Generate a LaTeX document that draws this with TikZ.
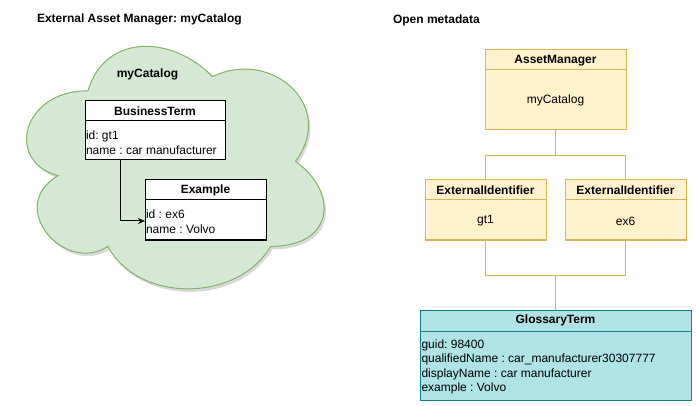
\documentclass[tikz,border=0pt]{standalone}
\usepackage{fontspec}
\setmainfont{Liberation Sans}
\usetikzlibrary{arrows.meta}
\frenchspacing
\definecolor{cloudfill}{HTML}{D5E8D4}
\definecolor{cloudline}{HTML}{82B366}
\definecolor{yelfill}{HTML}{FFF2CC}
\definecolor{yelline}{HTML}{D6B656}
\definecolor{tealfill}{HTML}{B0E3E6}
\definecolor{tealline}{HTML}{0E8088}
\tikzset{
  every node/.style={font=\fontsize{12}{14}\selectfont\frenchspacing, inner sep=0pt, outer sep=0pt},
  title/.style={font=\fontsize{12}{14}\selectfont\bfseries\frenchspacing, anchor=west},
  hdr/.style={font=\fontsize{12}{14}\selectfont\bfseries},
  attr/.style={anchor=base west},
  plainbox/.style={draw=black, fill=white, line width=1pt, anchor=north west},
  yelbox/.style={draw=yelline, fill=yelfill, line width=1pt, anchor=north west},
  tealbox/.style={draw=tealline, fill=tealfill, line width=1pt, anchor=north west},
  conn/.style={draw=yelline, line width=1pt},
  arr/.style={draw=black, line width=1pt, -{Stealth[length=7pt,width=6pt]}},
}
\begin{document}
\begin{tikzpicture}[x=1pt,y=-1pt]
\useasboundingbox (0,0) rectangle (696,406);
% titles
\node[title] (t1) at (37,19) {External Asset Manager: myCatalog};
\node[title] (t2) at (393,20) {Open metadata};
% cloud shadow
\fill[black, opacity=0.15, shift={(2pt,-3pt)}] (88,90.75) .. controls (21.6,90.75) and (5,161.5) .. (58.12,175.65)
 .. controls (5,206.78) and (64.76,274.7) .. (107.92,246.4)
 .. controls (137.8,303) and (237.4,303) .. (270.6,246.4)
 .. controls (337,246.4) and (337,189.8) .. (295.5,161.5)
 .. controls (337,104.9) and (270.6,48.3) .. (212.5,76.6)
 .. controls (171,34.15) and (104.6,34.15) .. (88,90.75) -- cycle;
% cloud
\filldraw[fill=cloudfill, draw=cloudline, line width=1pt] (88,90.75) .. controls (21.6,90.75) and (5,161.5) .. (58.12,175.65)
 .. controls (5,206.78) and (64.76,274.7) .. (107.92,246.4)
 .. controls (137.8,303) and (237.4,303) .. (270.6,246.4)
 .. controls (337,246.4) and (337,189.8) .. (295.5,161.5)
 .. controls (337,104.9) and (270.6,48.3) .. (212.5,76.6)
 .. controls (171,34.15) and (104.6,34.15) .. (88,90.75) -- cycle;
\node[hdr] (cl) at (147.5,74) {myCatalog};
% BusinessTerm
\node[plainbox, minimum width=140pt, minimum height=59pt] (bt) at (85,101) {};
\draw[line width=1pt] ([yshift=-20pt]bt.north west) -- ([yshift=-20pt]bt.north east);
\node[hdr] (bth) at ([yshift=-10.5pt]bt.north) {BusinessTerm};
\node[attr] (bt1) at (86,139.8) {id: gt1};
\node[attr] (bt2) at (86,154.2) {name : car manufacturer};
% Example
\node[plainbox, minimum width=121pt, minimum height=60pt] (ex) at (145,180) {};
\draw[line width=1pt] ([yshift=-20pt]ex.north west) -- ([yshift=-20pt]ex.north east);
\node[hdr] (exh) at ([yshift=-10.5pt]ex.north) {Example};
\node[attr] (ex1) at (146,218.8) {id : ex6};
\node[attr] (ex2) at (146,233.2) {name : Volvo};
% arrow
\draw[arr] ([xshift=35pt]bt.south west) |- ([yshift=-11pt]ex.west);
% AssetManager
\node[yelbox, minimum width=141pt, minimum height=80pt] (am) at (485,50) {};
\draw[yelline, line width=1pt] ([yshift=-20pt]am.north west) -- ([yshift=-20pt]am.north east);
\node[hdr] (amh) at ([yshift=-10.5pt]am.north) {AssetManager};
\node (amb) at (555.5,100.7) {myCatalog};
% ExternalIdentifiers
\node[yelbox, minimum width=121pt, minimum height=60pt] (ei1) at (425,180) {};
\draw[yelline, line width=1pt] ([yshift=-20pt]ei1.north west) -- ([yshift=-20pt]ei1.north east);
\node[hdr] (ei1h) at ([yshift=-10.5pt]ei1.north) {ExternalIdentifier};
\node (ei1b) at (485.5,221) {gt1};
\node[yelbox, minimum width=121pt, minimum height=60pt] (ei2) at (565,180) {};
\draw[yelline, line width=1pt] ([yshift=-20pt]ei2.north west) -- ([yshift=-20pt]ei2.north east);
\node[hdr] (ei2h) at ([yshift=-10.5pt]ei2.north) {ExternalIdentifier};
\node (ei2b) at (625.5,221) {ex6};
% GlossaryTerm
\node[tealbox, minimum width=271pt, minimum height=90pt] (gt) at (420,310) {};
\draw[tealline, line width=1pt] ([yshift=-21pt]gt.north west) -- ([yshift=-21pt]gt.north east);
\node[hdr] (gth) at ([yshift=-10.5pt]gt.north) {GlossaryTerm};
\node[attr] (gt1) at (421.5,348.3) {guid: 98400};
\node[attr] (gt2) at (421.5,362.8) {qualifiedName : car\_manufacturer30307777};
\node[attr] (gt3) at (421.5,377.1) {displayName : car manufacturer};
\node[attr] (gt4) at (421.5,391.4) {example : Volvo};
% connectors
\coordinate (j1) at (555.5,155.5);
\coordinate (j2) at (555.5,275.5);
\draw[conn] (am.south) -- (j1);
\draw[conn] (ei1.north) |- (j1) -| (ei2.north);
\draw[conn] (ei1.south) |- (j2) -| (ei2.south);
\draw[conn] (j2) -- (gt.north);
\end{tikzpicture}
\end{document}
